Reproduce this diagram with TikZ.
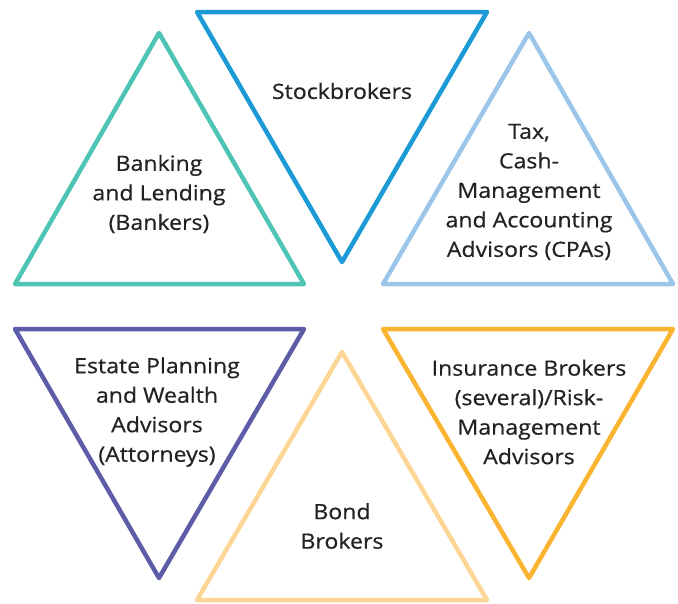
\documentclass[tikz,border=0pt]{standalone}
\usepackage{fontspec}
\newfontfamily\lblfont{Open Sans}[FakeBold=0.6, FakeStretch=1.1]
\usepackage{tikz}

\definecolor{tealc}{HTML}{4EC4B4}
\definecolor{bluec}{HTML}{1C9AD6}
\definecolor{skyc}{HTML}{9BC6E9}
\definecolor{purplec}{HTML}{5C5CA8}
\definecolor{sandc}{HTML}{FDD594}
\definecolor{orangec}{HTML}{FBB431}
\definecolor{textc}{HTML}{222222}

\tikzset{
  tri/.style={line width=4.5pt, line join=round, line cap=round},
  lbl/.style={align=center, text=textc, font=\lblfont\fontsize{21}{29.5}\selectfont}
}

\begin{document}
\begin{tikzpicture}[x=1pt,y=-1pt]
\useasboundingbox (0,0) rectangle (678,603);
%
\draw [tri, tealc]   (159,33) -- (304,284) -- (15,284) -- cycle;
\draw [tri, bluec]   (197,12) -- (487,12) -- (342,262) -- cycle;
\draw [tri, skyc]    (529,33) -- (673,284) -- (383,284) -- cycle;
%
\draw [tri, purplec] (15,329) -- (304,329) -- (159,578) -- cycle;
\draw [tri, sandc]   (342,352) -- (487,600) -- (197,600) -- cycle;
\draw [tri, orangec] (383,329) -- (673,329) -- (529,578) -- cycle;
%
\node [lbl] (banking) at (159,194) {Banking\\and Lending\\(Bankers)};
\node [lbl] (stock)   at (342,91)  {Stockbrokers};
\node [lbl] (tax)     at (529,192) {Tax,\\Cash-\\Management\\and Accounting\\Advisors (CPAs)};
\node [lbl] (estate)  at (157,412) {Estate Planning\\and Wealth\\Advisors\\(Attorneys)};
\node [lbl] (bond)    at (342,526) {Bond\\Brokers};
\node [lbl] (insur)   at (529,412) {Insurance Brokers\\(several)/Risk-\\Management\\Advisors};
%%%%%%%%%%%%%%%%%%%%%%%%%%%%%%%
\end{tikzpicture}
\end{document}
